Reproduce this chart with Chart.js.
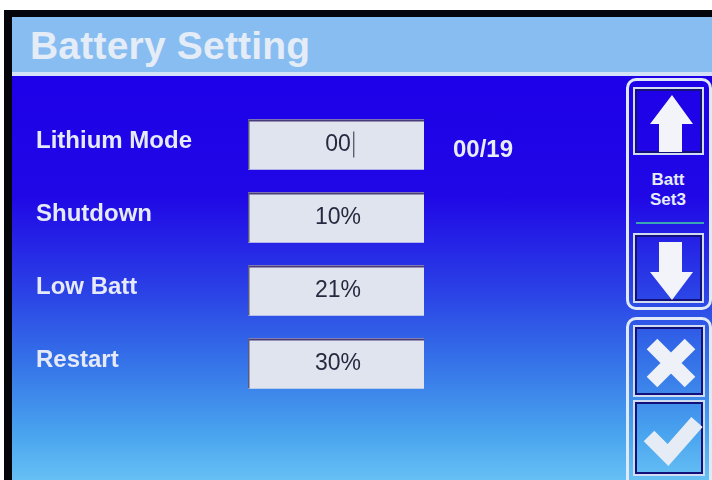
<!DOCTYPE html>
<html>
<head>
<meta charset="utf-8">
<script src="https://cdn.jsdelivr.net/npm/chart.js@4.4.0/dist/chart.umd.min.js"></script>
<style>
  body { margin: 0; width: 712px; height: 480px; background: #fff; overflow: hidden; position: relative; font-family: "Liberation Sans", Arial, sans-serif; }
  .frame { position: absolute; left: 4px; top: 10px; width: 708px; height: 470px; background: #05050c; }
  .header { position: absolute; left: 12px; top: 17px; width: 700px; height: 55px; background: #88bdf2; }
  .header h1 { margin: 0; position: absolute; left: 18px; top: 7px; font-size: 39px; font-weight: bold; color: #e4ecf7; letter-spacing: 0.2px; }
  .hline { position: absolute; left: 12px; top: 72px; width: 700px; height: 4px; background: #d4e2f8; }
  .panel { position: absolute; left: 12px; top: 76px; width: 700px; height: 404px;
    background: linear-gradient(to bottom, #1e00e8 0%, #2008e6 30%, #2a3ee6 52%, #3470e8 70%, #48a2ee 88%, #66c0f4 100%); }
  canvas { position: absolute; left: 0; top: 0; }
  .grp { position: absolute; border: 3px solid #e0e9f8; border-radius: 10px; box-sizing: border-box; }
  .btn { position: absolute; box-sizing: border-box; border: 2px solid #cfdcf2; box-shadow: inset 0 0 0 2px #14107a; }
  .btn svg { position: absolute; left: 0; top: 0; }
  .set { position: absolute; left: 632px; width: 72px; text-align: center; color: #e6ecf8; font-weight: bold; font-size: 17px; line-height: 20px; top: 170px; }
  .teal { position: absolute; left: 636px; top: 222px; width: 68px; height: 2px; background: #3aa6b4; }
</style>
</head>
<body>
<div class="frame"></div>
<div class="header"><h1>Battery Setting</h1></div>
<div class="hline"></div>
<div class="panel"></div>

<div class="grp" style="left:626px;top:78px;width:86px;height:232px"></div>
<div class="btn" style="left:633px;top:87px;width:71px;height:68px">
  <svg width="71" height="68"><polygon points="37,6 58,35 47,35 47,63 24,63 24,35 15,35" fill="#f2f4fa"/></svg>
</div>
<div class="set">Batt<br>Set3</div>
<div class="teal"></div>
<div class="btn" style="left:633px;top:233px;width:71px;height:70px">
  <svg width="71" height="70"><polygon points="24,7 47,7 47,37 58,37 37,65 15,37 24,37" fill="#f2f4fa"/></svg>
</div>

<div class="grp" style="left:626px;top:317px;width:86px;height:175px"></div>
<div class="btn" style="left:633px;top:325px;width:72px;height:72px">
  <svg width="72" height="72"><path d="M17,17 L55,55 M55,17 L17,55" stroke="#eef1f8" stroke-width="15" /></svg>
</div>
<div class="btn" style="left:633px;top:400px;width:72px;height:76px">
  <svg width="72" height="76"><polyline points="14,34 33,53 62,20" fill="none" stroke="#e6ecf6" stroke-width="15" stroke-linejoin="miter"/></svg>
</div>

<canvas id="settingChart" width="712" height="480"></canvas>

<script>
// field rows shown on the settings page
const fieldLabels = ['Lithium Mode', 'Shutdown', 'Low Batt', 'Restart'];
const fieldValues = ['00', '10%', '21%', '30%'];
const fieldNotes = ['00/19', '', '', ''];
// each input box fills the whole field column
const fieldSpan = [[0, 1], [0, 1], [0, 1], [0, 1]];

document.addEventListener('DOMContentLoaded', () => {
    // Draw the value text and inset edges inside each box
    const fieldText = {
        id: 'fieldText',
        afterDatasetsDraw(chart) {
            const ctx = chart.ctx;
            const meta = chart.getDatasetMeta(0);
            meta.data.forEach((bar, i) => {
                const left = Math.min(bar.base, bar.x);
                const right = Math.max(bar.base, bar.x);
                const top = bar.y - bar.height / 2;
                const bottom = bar.y + bar.height / 2;
                ctx.save();
                ctx.strokeStyle = '#4a3c78';
                ctx.lineWidth = 2;
                ctx.beginPath();
                ctx.moveTo(left, top + 1);
                ctx.lineTo(right, top + 1);
                ctx.stroke();
                ctx.strokeStyle = '#5a5a80';
                ctx.lineWidth = 1.5;
                ctx.beginPath();
                ctx.moveTo(left + 0.75, top);
                ctx.lineTo(left + 0.75, bottom);
                ctx.stroke();

                const cx = (left + right) / 2 + 2;
                ctx.font = '23px "Liberation Sans", Arial, sans-serif';
                ctx.fillStyle = '#262a40';
                ctx.textAlign = 'center';
                ctx.textBaseline = 'middle';
                ctx.fillText(fieldValues[i], cx, bar.y);
                if (i === 0) {
                    // text cursor after the edited value
                    const w = ctx.measureText(fieldValues[i]).width;
                    ctx.strokeStyle = '#262a40';
                    ctx.lineWidth = 1;
                    ctx.beginPath();
                    ctx.moveTo(cx + w / 2 + 3, bar.y - 13);
                    ctx.lineTo(cx + w / 2 + 3, bar.y + 13);
                    ctx.stroke();
                }
                if (fieldNotes[i]) {
                    ctx.font = 'bold 24px "Liberation Sans", Arial, sans-serif';
                    ctx.fillStyle = '#e8ecf8';
                    ctx.textAlign = 'left';
                    ctx.fillText(fieldNotes[i], right + 29, bar.y + 6);
                }
                ctx.restore();
            });
        }
    };

    const ctx = document.getElementById('settingChart').getContext('2d');
    new Chart(ctx, {
        type: 'bar',
        data: {
            labels: fieldLabels,
            datasets: [{
                data: fieldSpan,
                backgroundColor: '#e0e4ee',
                borderWidth: 0,
                borderSkipped: false,
                barThickness: 50
            }]
        },
        options: {
            indexAxis: 'y',
            responsive: false,
            devicePixelRatio: 1,
            animation: false,
            layout: { padding: { left: 36, right: 288, top: 108, bottom: 80 } },
            plugins: { legend: { display: false }, tooltip: { enabled: false } },
            scales: {
                x: { display: false, min: 0, max: 1 },
                y: {
                    grid: { display: false },
                    border: { display: false },
                    afterFit: (scale) => { scale.width = 212; },
                    ticks: {
                        color: '#e6eaf8',
                        crossAlign: 'far',
                        padding: 0,
                        labelOffset: -3,
                        font: { family: '"Liberation Sans", Arial, sans-serif', size: 24, weight: 'bold' }
                    }
                }
            }
        },
        plugins: [fieldText]
    });
});
</script>
</body>
</html>
